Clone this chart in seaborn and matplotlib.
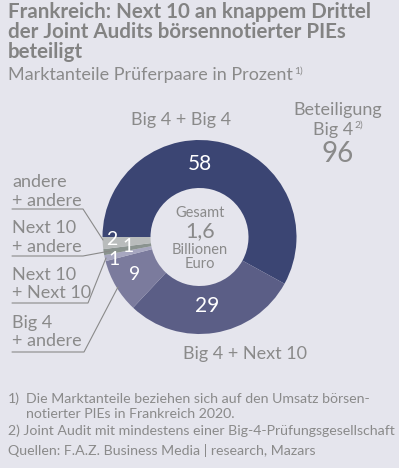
import matplotlib
matplotlib.use('Agg')
import matplotlib.pyplot as plt
import seaborn as sns

# Daten
paare = ['Big 4 + Big 4', 'Big 4 + Next 10', 'Big 4 + andere',
         'Next 10 + Next 10', 'Next 10 + andere', 'andere + andere']
anteile = [58, 29, 9, 1, 1, 2]
farben = ['#3b4573', '#5b5e86', '#7b7b9d', '#a7a7c0', '#8a938f', '#b9bcbc']
beteiligung_big4 = 96
gesamt = '1,6'

sns.set_style('white')
plt.rcParams['font.family'] = ['Lato', 'DejaVu Sans']

bg = '#e5e5ed'
grau = '#8a8a8a'
W, H = 399, 468

fig = plt.figure(figsize=(W / 100, H / 100), dpi=100, facecolor=bg)
ax = fig.add_axes([0, 0, 1, 1])
ax.set_facecolor(bg)

cx, cy, r = 199.5, H - 237, 97
ax.pie(anteile, colors=farben, startangle=180, counterclock=False,
       center=(cx, cy), radius=r, frame=True,
       wedgeprops=dict(width=48, linewidth=0))
ax.set_xlim(0, W)
ax.set_ylim(0, H)
ax.set_aspect('auto')
ax.axis('off')
renderer = fig.canvas.get_renderer()


def t(x, y, s, **kw):
    kw.setdefault('color', grau)
    kw.setdefault('va', 'baseline')
    return ax.text(x, H - y, s, **kw)


def hoch(txt, s, dy=6, size=7.5):
    # Fussnotenzeichen direkt hinter den Text setzen
    bb = txt.get_window_extent(renderer)
    x, y = txt.get_position()
    ax.text(bb.x1 + 1, y + dy, s, fontsize=size, color=grau, va='baseline')


# Titel
for i, zeile in enumerate(['Frankreich: Next 10 an knappem Drittel',
                           'der Joint Audits börsennotierter PIEs',
                           'beteiligt']):
    t(8, 17.5 + 20 * i, zeile, fontsize=14.8, fontweight='bold', color='#838383')
hoch(t(8, 80, 'Marktanteile Prüferpaare in Prozent', fontsize=13), '1)')

# Werte auf den Segmenten
t(200, 170, str(anteile[0]), fontsize=15, color='white', ha='center')
t(207, 312, str(anteile[1]), fontsize=15, color='white', ha='center')
t(135, 280, str(anteile[2]), fontsize=14, color='white', ha='center')
t(114, 265, str(anteile[3]), fontsize=14, color='white', ha='center')
t(128, 252, str(anteile[4]), fontsize=14, color='white', ha='center')
t(112, 245, str(anteile[5]), fontsize=14, color='white', ha='center')

# Mitte
t(200, 217, 'Gesamt', fontsize=10.5, ha='center')
t(200, 237, gesamt, fontsize=15.5, ha='center')
t(200, 254.5, 'Billionen', fontsize=10.5, ha='center')
t(200, 267.5, 'Euro', fontsize=10.5, ha='center')

# Beschriftungen
t(181, 125, paare[0], fontsize=13, ha='center')
t(245, 359, paare[1], fontsize=13, ha='center')
t(338, 115, 'Beteiligung', fontsize=13, ha='center')
hoch(t(333, 135, 'Big 4', fontsize=13, ha='center'), '2)', dy=7)
t(338, 162, str(beteiligung_big4), fontsize=20, ha='center')

links = [('andere', '+ andere', 187, [(12, 209), (83, 209), (103, 240)]),
         ('Next 10', '+ andere', 233, [(12, 256), (83, 256), (110, 251)]),
         ('Next 10', '+ Next 10', 280, [(12, 303), (88, 303), (106, 258)]),
         ('Big 4', '+ andere', 328, [(12, 352), (84, 352), (118, 287)])]
for z1, z2, yb, pts in links:
    t(12, yb, z1, fontsize=13)
    t(12, yb + 18.5, z2, fontsize=13)
    ax.plot([p[0] for p in pts], [H - p[1] for p in pts], color=grau, lw=0.8)

# Fussnoten
t(8, 403, '1)', fontsize=10.2)
t(26, 403, 'Die Marktanteile beziehen sich auf den Umsatz börsen-', fontsize=10.2)
t(26, 418, 'notierter PIEs in Frankreich 2020.', fontsize=10.2)
t(8, 435, '2) Joint Audit mit mindestens einer Big-4-Prüfungsgesellschaft', fontsize=10.2)
t(8, 455, 'Quellen: F.A.Z. Business Media | research, Mazars', fontsize=10.2)

fig.savefig('out.png', dpi=100, facecolor=bg)
